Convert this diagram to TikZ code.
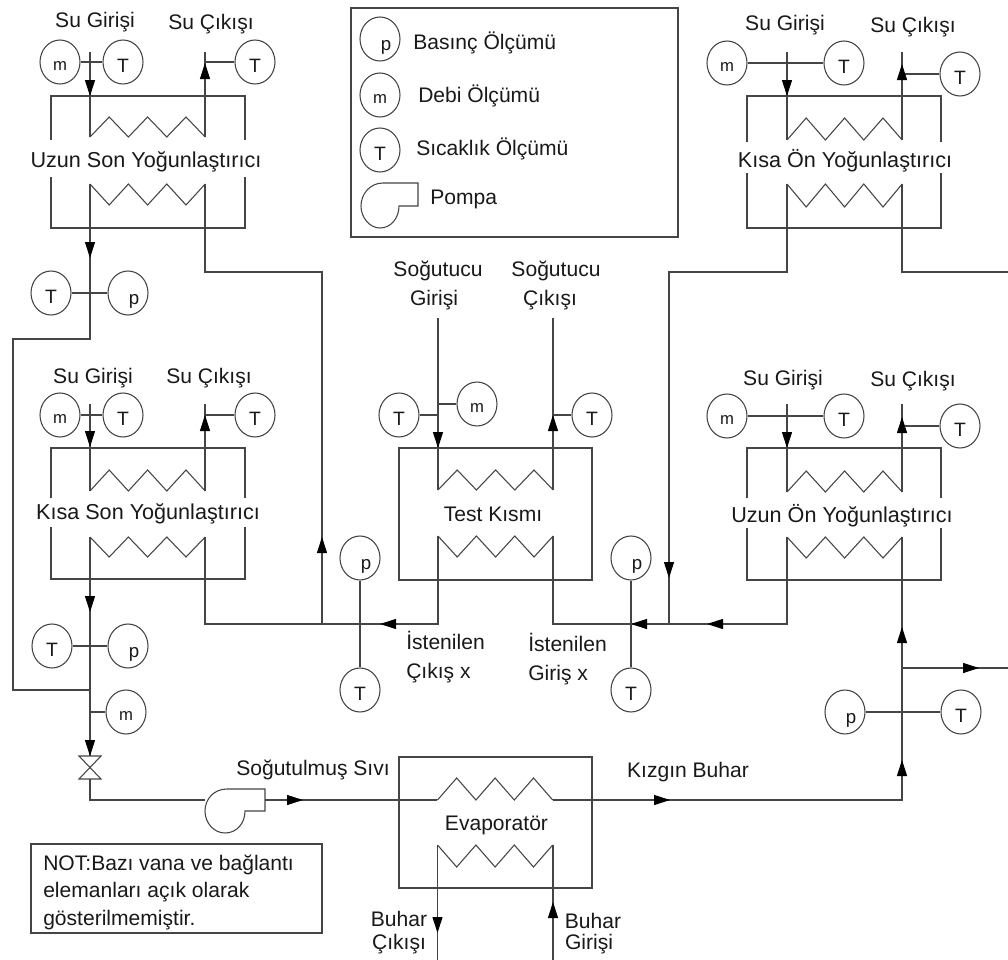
\documentclass[tikz,border=0pt]{standalone}
\usepackage{fontspec}
\setmainfont{Liberation Sans}
\usetikzlibrary{shapes.geometric,arrows.meta}
\newcommand{\zigup}[3]{\draw[pipe] (#1,#2) -- ++(19.2,-#3) -- ++(19.2,#3) -- ++(19.2,-#3) -- ++(19.2,#3) -- ++(19.2,-#3) -- ++(19.2,#3);}
\newcommand{\zigdown}[3]{\draw[pipe] (#1,#2) -- ++(19.2,#3) -- ++(19.2,-#3) -- ++(19.2,#3) -- ++(19.2,-#3) -- ++(19.2,#3) -- ++(19.2,-#3);}
% gapped condenser shell: x1,x2,ytop,gaptop,gapbottom,ybottom
\newcommand{\shell}[6]{\draw[pipe] (#1,#4) -- (#1,#3) -- (#2,#3) -- (#2,#4); \draw[pipe] (#1,#5) -- (#1,#6) -- (#2,#6) -- (#2,#5);}
% flow arrowhead: from base to tip
\newcommand{\flow}[4]{\draw[flowtip] (#1,#2) -- (#3,#4);}
% pump: left x, right x, step x, top y, step y, bottom y
\newcommand{\pump}[6]{\draw[pipe,fill=white] (#3,#5) .. controls (#3,{#5+12}) and ({#3-8},#6) .. ({(#1+#3)/2},#6) .. controls ({#1+9},#6) and (#1,{#5+12}) .. (#1,#5) .. controls (#1,{#5-12}) and ({#1+9},#4) .. ({#1+22},#4) -- (#2,#4) -- (#2,#5) -- cycle;}
\definecolor{ink}{gray}{0.27}
\definecolor{txt}{gray}{0.1}
\tikzset{
  pipe/.style={draw=ink,line width=0.8pt,line join=miter},
  flowtip/.style={draw=ink,line width=0.8pt,-{Triangle[length=12pt,width=7.5pt,color=black]},shorten >=0pt},
  meter/.style={ellipse,draw=ink,line width=0.8pt,minimum width=30pt,minimum height=33pt,inner sep=0pt,fill=white,text=txt},
  lbl/.style={anchor=center,text=txt,inner sep=0pt,text height=11.3pt,text depth=0pt,font=\fontsize{15.8}{18}\selectfont},
  lblwide/.style={lbl,font=\fontsize{16.2}{18}\selectfont},
  lbll/.style={lbl,anchor=west},
  pbox/.style={rectangle,draw=ink,line width=0.8pt}
}
\newcommand{\pp}{\fontsize{14}{15}\selectfont\hspace*{9pt}\raisebox{-8.4pt}[0pt][0pt]{p}}
\newcommand{\mm}{\fontsize{12.5}{14}\selectfont\raisebox{-6.5pt}[0pt][0pt]{m}}
\newcommand{\TT}{\fontsize{14.5}{15}\selectfont\raisebox{-8pt}[0pt][0pt]{T}}
\begin{document}
\begin{tikzpicture}[x=0.75pt,y=-0.75pt]
\useasboundingbox (0,0) rectangle (1008,960);
\fill[white] (0,0) rectangle (1008,960);

% ---------- legend
\node[pbox,minimum width=245.25pt,minimum height=171.75pt] (legend) at (514.5,122.5) {};
\node[meter] (lp) at (380,39) {\pp};
\node[meter] (lm) at (380,95) {\mm};
\node[meter] (lt) at (380,150) {\TT};
\pump{361}{418}{399}{183}{206}{228}
\node[lbll] (tlp) at (413,42) {Basınç Ölçümü};
\node[lbll] (tlm) at (418,95) {Debi Ölçümü};
\node[lbll] (tlt) at (416,148) {Sıcaklık Ölçümü};
\node[lbll] (tlpu) at (430,197) {Pompa};

% ---------- Uzun Son (top left)
\shell{51}{245}{96}{140}{177}{228}
\zigup{90}{137}{20}
\zigdown{90}{184}{21}
\node[lblwide] (a0) at (146,160) {Uzun Son Yoğunlaştırıcı};
\node[lbl] (a1) at (95,20) {Su Girişi};
\node[lbl] (a2) at (211,22) {Su Çıkışı};
\node[meter] (am) at (60,62) {\mm};
\node[meter] (at) at (123,62) {\TT};
\node[meter] (atr) at (255,62) {\TT};
\coordinate (ai) at (90,52); \coordinate (aib) at (90,137);
\coordinate (ao) at (205,52); \coordinate (aob) at (205,137);
\coordinate (aoj) at (205,62);
\draw[pipe] (am) -- (at);
\draw[pipe] (atr) -- (aoj);
\draw[pipe] (ai) -- (aib);
\draw[pipe] (ao) -- (aob);
\flow{90}{80}{90}{96}
\flow{205}{80}{205}{63}
\node[meter] (bt) at (51,293) {\TT};
\node[meter] (bp) at (128,293) {\pp};
\draw[pipe] (bt) -- (bp);
\coordinate (c1) at (90,184); \coordinate (c2) at (90,339); \coordinate (c3) at (13,339); \coordinate (c4) at (13,690); \coordinate (c5) at (90,690);
\draw[pipe] (c1) -- (c2) -- (c3) -- (c4) -- (c5);
\flow{90}{243}{90}{258}
\coordinate (d1) at (205,184); \coordinate (d2) at (205,272); \coordinate (d3) at (322,272); \coordinate (d4) at (322,624);
\draw[pipe] (d1) -- (d2) -- (d3) -- (d4);
\flow{322}{553}{322}{537}

% ---------- Kisa Son
\shell{51}{245}{448}{498}{527}{579}
\zigup{90}{491}{21}
\zigdown{90}{537}{20}
\node[lblwide] (e0) at (148,512) {Kısa Son Yoğunlaştırıcı};
\node[lbl] (e1) at (93,376) {Su Girişi};
\node[lbl] (e2) at (209,376) {Su Çıkışı};
\node[meter] (em) at (60,415) {\mm};
\node[meter] (et) at (123,415) {\TT};
\node[meter] (etr) at (255,415) {\TT};
\coordinate (ei) at (90,404); \coordinate (eib) at (90,491);
\coordinate (eo) at (205,404); \coordinate (eob) at (205,491);
\coordinate (eoj) at (205,415);
\draw[pipe] (em) -- (et);
\draw[pipe] (etr) -- (eoj);
\draw[pipe] (ei) -- (eib);
\draw[pipe] (eo) -- (eob);
\flow{90}{431}{90}{447}
\flow{205}{432}{205}{415}
\node[meter] (ft) at (52,646) {\TT};
\node[meter] (fp) at (128,646) {\pp};
\draw[pipe] (ft) -- (fp);
\node[meter] (fm) at (126,712) {\mm};
\coordinate (fj) at (90,712);
\draw[pipe] (fm) -- (fj);
\coordinate (g1) at (90,537); \coordinate (g2) at (90,756);
\draw[pipe] (g1) -- (g2);
\flow{90}{596}{90}{612}
\flow{90}{739}{90}{756}
% valve
\draw[pipe] (79,756) -- (101,756) -- (79,779) -- (101,779) -- cycle;
\coordinate (g3) at (90,779); \coordinate (g4) at (90,800); \coordinate (g5) at (205,800);
\draw[pipe] (g3) -- (g4) -- (g5);
\pump{205}{265}{245}{789}{811}{833}
\coordinate (g6) at (265,800); \coordinate (g7) at (437,800);
\draw[pipe] (g6) -- (g7);
\flow{287}{800}{303}{800}
\node[lbl] (g8) at (313,768) {Soğutulmuş Sıvı};
\node[pbox,minimum width=218.25pt,minimum height=66.75pt] (note) at (176.5,888.5) {};
\node[lbll] (n1) at (43,863) {NOT:Bazı vana ve bağlantı};
\node[lbll] (n2) at (43,890) {elemanları açık olarak};
\node[lbll] (n3) at (43,918) {gösterilmemiştir.};

% ---------- Test section
\node[pbox,minimum width=144.75pt,minimum height=99pt] (test) at (495.5,514) {};
\zigup{438}{490}{20}
\zigdown{438}{536}{21}
\node[lbl] (h0) at (493,514) {Test Kısmı};
\node[lbl] (h1) at (438,269) {Soğutucu};
\node[lbl] (h2) at (434,298) {Girişi};
\node[lbl] (h3) at (556,269) {Soğutucu};
\node[lbl] (h4) at (550,298) {Çıkışı};
\node[meter] (ht) at (399,415) {\TT};
\node[meter] (hm) at (477,404) {\mm};
\node[meter] (htr) at (592,415) {\TT};
\coordinate (hi) at (438,318); \coordinate (hib) at (438,490);
\coordinate (ho) at (553,318); \coordinate (hob) at (553,490);
\coordinate (hj1) at (438,415); \coordinate (hj2) at (438,404); \coordinate (hj3) at (553,415);
\draw[pipe] (hi) -- (hib);
\draw[pipe] (ho) -- (hob);
\draw[pipe] (ht) -- (hj1);
\draw[pipe] (hm) -- (hj2);
\draw[pipe] (htr) -- (hj3);
\flow{438}{431}{438}{448}
\flow{553}{432}{553}{415}
% return lines
\coordinate (k1) at (438,536); \coordinate (k2) at (438,624); \coordinate (k3) at (205,624); \coordinate (k4) at (205,537);
\draw[pipe] (k1) -- (k2) -- (k3) -- (k4);
\flow{397}{624}{380}{624}
\node[meter] (kp) at (360,558) {\pp};
\node[meter] (kt) at (360,690) {\TT};
\draw[pipe] (kp) -- (kt);
\node[lbll] (k5) at (406,642) {İstenilen};
\node[lbll] (k6) at (406,671) {Çıkış x};
\coordinate (l1) at (553,536); \coordinate (l2) at (553,624); \coordinate (l3) at (787,624); \coordinate (l4) at (787,537);
\draw[pipe] (l1) -- (l2) -- (l3) -- (l4);
\flow{648}{624}{631}{624}
\flow{723}{624}{707}{624}
\node[meter] (lpp) at (631,558) {\pp};
\node[meter] (ltt) at (631,690) {\TT};
\draw[pipe] (lpp) -- (ltt);
\node[lbll] (l5) at (528,644) {İstenilen};
\node[lbll] (l6) at (528,673) {Giriş x};

% ---------- Kisa On (top right)
\shell{747}{941}{96}{142}{173}{228}
\zigup{787}{140}{22}
\zigdown{787}{184}{23}
\node[lblwide] (p0) at (845,160) {Kısa Ön Yoğunlaştırıcı};
\node[lbl] (p1) at (785,23) {Su Girişi};
\node[lbl] (p2) at (913,25) {Su Çıkışı};
\node[meter] (pm) at (727,63) {\mm};
\node[meter] (pt) at (844,63) {\TT};
\node[meter] (ptr) at (960,74) {\TT};
\coordinate (pi) at (787,52); \coordinate (pib) at (787,140);
\coordinate (po) at (902,52); \coordinate (pob) at (902,140);
\coordinate (pj) at (902,74);
\draw[pipe] (pm) -- (pt);
\draw[pipe] (ptr) -- (pj);
\draw[pipe] (pi) -- (pib);
\draw[pipe] (po) -- (pob);
\flow{787}{80}{787}{96}
\flow{902}{81}{902}{64}
\coordinate (q1) at (787,184); \coordinate (q2) at (787,272); \coordinate (q3) at (669,272); \coordinate (q4) at (669,624);
\draw[pipe] (q1) -- (q2) -- (q3) -- (q4);
\flow{669}{562}{669}{578}
\coordinate (r1) at (902,184); \coordinate (r2) at (902,272); \coordinate (r3) at (1008,272);
\draw[pipe] (r1) -- (r2) -- (r3);

% ---------- Uzun On
\shell{747}{941}{448}{498}{528}{580}
\zigup{787}{492}{21}
\zigdown{787}{537}{21}
\node[lblwide] (s0) at (842,515) {Uzun Ön Yoğunlaştırıcı};
\node[lbl] (s1) at (783,378) {Su Girişi};
\node[lbl] (s2) at (913,379) {Su Çıkışı};
\node[meter] (sm) at (727,416) {\mm};
\node[meter] (st) at (844,416) {\TT};
\node[meter] (str) at (960,426) {\TT};
\coordinate (si) at (787,404); \coordinate (sib) at (787,492);
\coordinate (so) at (902,404); \coordinate (sob) at (902,492);
\coordinate (sj) at (902,426);
\draw[pipe] (sm) -- (st);
\draw[pipe] (str) -- (sj);
\draw[pipe] (si) -- (sib);
\draw[pipe] (so) -- (sob);
\flow{787}{432}{787}{448}
\flow{902}{434}{902}{417}
\coordinate (u1) at (902,537); \coordinate (u2) at (902,800); \coordinate (u3) at (553,800);
\draw[pipe] (u1) -- (u2) -- (u3);
\flow{902}{643}{902}{627}
\flow{902}{776}{902}{760}
\flow{654}{800}{670}{800}
\coordinate (u4) at (902,668); \coordinate (u5) at (1008,668);
\draw[pipe] (u4) -- (u5);
\flow{963}{668}{979}{668}
\node[meter] (up) at (845,712) {\pp};
\node[meter] (ut) at (961,712) {\TT};
\draw[pipe] (up) -- (ut);
\node[lbl] (u6) at (688,770) {Kızgın Buhar};

% ---------- Evaporator
\node[pbox,minimum width=144.75pt,minimum height=98.25pt] (evap) at (495.5,822.5) {};
\zigup{437.5}{800}{22}
\zigdown{437.5}{845}{22}
\node[lbl] (v0) at (496.5,823) {Evaporatör};
\coordinate (v1) at (437.5,845); \coordinate (v2) at (437.5,960);
\coordinate (v3) at (553,845); \coordinate (v4) at (553,960);
\draw[pipe] (v1) -- (v2);
\draw[pipe] (v3) -- (v4);
\flow{437.5}{916}{437.5}{933}
\flow{553}{918}{553}{902}
\node[lbl] (v5) at (399,919) {Buhar};
\node[lbl] (v6) at (399,942) {Çıkışı};
\node[lbl] (v7) at (593,921) {Buhar};
\node[lbl] (v8) at (589,942) {Girişi};
\end{tikzpicture}
\end{document}
